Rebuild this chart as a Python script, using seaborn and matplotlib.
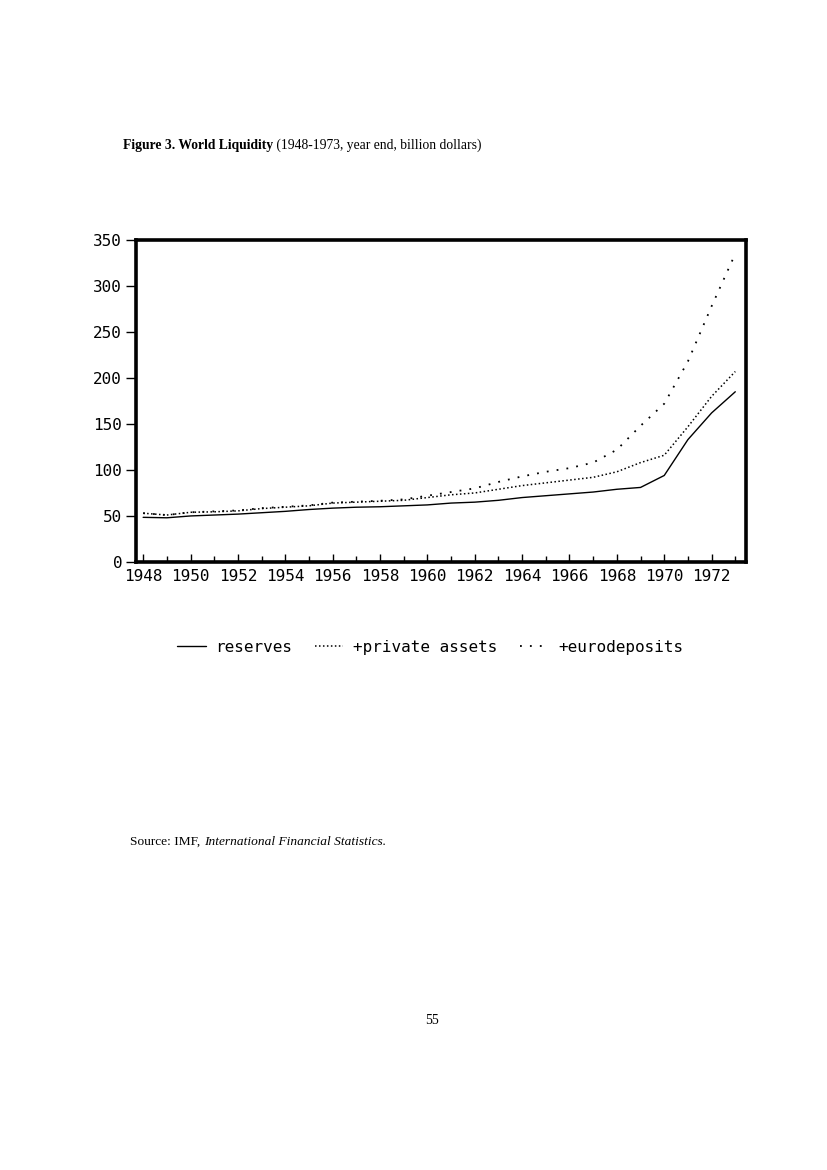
import pandas as pd
import matplotlib
matplotlib.use('Agg')
import matplotlib.pyplot as plt
import seaborn as sns

# World liquidity, year end, billion dollars
years = list(range(1948, 1974))
reserves = [48.5, 48, 50, 51, 52, 53.5, 55, 57, 58.5, 59.5, 60, 61, 62, 64, 65,
            67, 70, 72, 74, 76, 79, 81, 94, 133, 162, 185]
private_assets = [53, 51, 54, 54.5, 55.5, 58, 59.5, 61, 64, 65, 66, 67, 70, 73, 75,
                  79, 83, 86, 89, 92, 98, 108, 116, 147, 180, 207]
eurodeposits = [53, 51, 54, 55, 56, 58.5, 60, 61.5, 64.5, 65.5, 66.5, 68, 72, 76, 80,
                87, 93, 98, 102, 108, 122, 148, 172, 218, 278, 335]

series_labels = ['reserves', '+private assets', '+eurodeposits']
y_ticks = [0, 50, 100, 150, 200, 250, 300, 350]
x_ticks = list(range(1948, 1974, 2))

df = pd.DataFrame({'year': years,
                   'reserves': reserves,
                   '+private assets': private_assets,
                   '+eurodeposits': eurodeposits})

sns.set_style('ticks')
plt.rcParams['font.family'] = ['DejaVu Sans Mono', 'DejaVu Sans']
plt.rcParams['text.color'] = 'black'
plt.rcParams['xtick.color'] = 'black'
plt.rcParams['ytick.color'] = 'black'

fig = plt.figure(figsize=(8.27, 11.70), dpi=100)
ax = fig.add_axes([0.1645, 0.5197, 0.7375, 0.2752])

styles = ['-', (0, (1, 1.6)), (0, (1, 4.5))]
widths = [1.0, 1.1, 1.3]
for label, ls, lw in zip(series_labels, styles, widths):
    sns.lineplot(data=df, x='year', y=label, ax=ax, color='black',
                 linestyle=ls, linewidth=lw, label=label, legend=False)

ax.set_xlim(1947.7, 1973.45)
ax.set_ylim(0, 350)
ax.set_xticks(x_ticks)
ax.set_xticks(range(1949, 1974, 2), minor=True)
ax.set_yticks(y_ticks)
ax.set_xlabel('')
ax.set_ylabel('')
ax.tick_params(axis='x', direction='in', length=6, width=1, labelsize=11.5, pad=5)
ax.tick_params(axis='x', which='minor', direction='in', length=4, width=1)
ax.tick_params(axis='y', direction='out', length=7, width=1, labelsize=11.5, pad=3)
for side in ['top', 'bottom', 'left', 'right']:
    ax.spines[side].set_visible(True)
    ax.spines[side].set_linewidth(2.6)
    ax.spines[side].set_color('black')

handles, labels = ax.get_legend_handles_labels()
fig.legend(handles, labels, loc='center', bbox_to_anchor=(0.52, 0.447), ncol=3,
           frameon=False, fontsize=11.5, handlelength=1.8, handletextpad=0.6,
           columnspacing=1.4)

# Page texts (serif, like the typeset document)
t1 = fig.text(123 / 827, 1 - 152 / 1170, 'Figure 3. World Liquidity',
              family='Liberation Serif', fontsize=9.8, fontweight='bold', va='bottom')
ax.annotate(' (1948-1973, year end, billion dollars)', xy=(1, 0), xycoords=t1,
            family='Liberation Serif', fontsize=9.8, va='bottom', ha='left',
            annotation_clip=False)

s1 = fig.text(130 / 827, 1 - 848 / 1170, 'Source: IMF, ', family='Liberation Serif',
              fontsize=9.6, va='bottom')
ax.annotate('International Financial Statistics.', xy=(1, 0), xycoords=s1,
            family='Liberation Serif', fontsize=9.6, style='italic', va='bottom',
            ha='left', annotation_clip=False)

fig.text(432 / 827, 1 - 1020 / 1170, '55', family='Liberation Serif', fontsize=10,
         ha='center', va='center')

fig.savefig('out.png', dpi=100, facecolor='white')
